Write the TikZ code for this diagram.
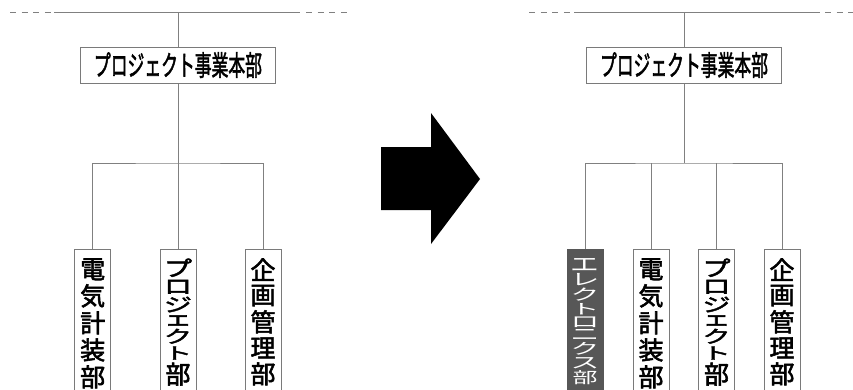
\documentclass[tikz,border=0pt]{standalone}
\usepackage{fontspec}
\newfontfamily\jp{Noto Sans CJK JP}[FakeBold=2.2]
\newfontfamily\jpthin{Noto Sans CJK JP}
\definecolor{linegray}{HTML}{808080}
\definecolor{boxgray}{HTML}{7A7A7A}
\definecolor{darkfill}{HTML}{575757}
% one kanji of a vertical label
\newcommand\vch[1]{\hbox to 36pt{\hss#1\hss}}
% one scaled character: #1 horizontal scale, #2 vertical scale, #3 character
\newcommand\vks[3]{\hbox to 36pt{\hss\scalebox{#1}[#2]{#3}\hss}}
% a vertical label: #1 top skip, #2 gap between glyphs, #3 characters
\newcommand\vlabel[3]{\vbox to 160pt{\baselineskip=0pt\lineskiplimit=0pt\lineskip=#2\vskip#1\relax #3\vfil}}
\tikzset{
  conn/.style={draw=linegray, line width=1pt},
  dashconn/.style={draw=linegray, line width=1pt, dash pattern=on 6pt off 5.6pt},
  hqbox/.style={draw=boxgray, line width=1pt, fill=white, inner sep=0pt,
    minimum width=195pt, minimum height=36pt, font=\jp\fontsize{28}{28}\selectfont},
  deptbox/.style={draw=boxgray, line width=1pt, fill=white, inner sep=0pt, anchor=north,
    font=\jp\fontsize{25}{26}\selectfont},
  newdept/.style={deptbox, fill=darkfill, draw=darkfill, text=white,
    font=\jpthin\fontsize{25}{26}\selectfont},
}
\begin{document}
\begin{tikzpicture}[x=1pt,y=-1pt]
\useasboundingbox (0,0) rectangle (853,389);
\clip (0,0) rectangle (853,389);
% ---------- left (before) ----------
\coordinate (la) at (10,12);
\coordinate (lb) at (51,12);
\coordinate (lc) at (54,12);
\coordinate (ld) at (300,12);
\coordinate (le) at (306,12);
\coordinate (lf) at (347,12);
\coordinate (ltop) at (178,12);
\draw[dashconn] (la) -- (lb);
\draw[conn] (lc) -- (ld);
\draw[dashconn] (le) -- (lf);
\node[hqbox] (hqL) at (178,65) {\scalebox{0.6}[1]{プロジェクト事業本部}};
\draw[conn] (ltop) -- (hqL.north);
\coordinate (ljn) at (178,163);
\node[deptbox] (L1) at (92.7,249) {\vlabel{9pt}{4pt}{\vch{電}\vch{気}\vch{計}\vch{装}\vch{部}}};
\node[deptbox] (L2) at (178,249) {\vlabel{9pt}{3pt}{\vks{1.12}{0.85}{プ}\vks{1.12}{0.8}{ロ}\vks{1.12}{0.75}{ジ}\vks{1.12}{0.8}{ェ}\vks{1.12}{0.7}{ク}\vks{1.12}{0.65}{ト}\vch{部}}};
\node[deptbox] (L3) at (263,249) {\vlabel{9pt}{4pt}{\vch{企}\vch{画}\vch{管}\vch{理}\vch{部}}};
\draw[conn] (hqL.south) -- (ljn);
\draw[conn] (L1.north) |- (ljn) -| (L3.north);
\draw[conn] (L2.north) -- (ljn);
% ---------- arrow ----------
\fill[black] (381,147) -- (431,147) -- (431,113) -- (480,179) -- (431,244) -- (431,210) -- (381,210) -- cycle;
% ---------- right (after) ----------
\coordinate (ra) at (529,12);
\coordinate (rb) at (570,12);
\coordinate (rc) at (574,12);
\coordinate (rd) at (820,12);
\coordinate (re) at (825,12);
\coordinate (rf) at (866,12);
\coordinate (rtop) at (684,12);
\draw[dashconn] (ra) -- (rb);
\draw[conn] (rc) -- (rd);
\draw[dashconn] (re) -- (rf);
\node[hqbox] (hqR) at (684,65) {\scalebox{0.6}[1]{プロジェクト事業本部}};
\draw[conn] (rtop) -- (hqR.north);
\coordinate (rjn) at (684,163);
\node[newdept] (R1) at (585,249) {\vlabel{9pt}{2pt}{\vks{1.15}{0.78}{エ}\vks{1.15}{0.65}{レ}\vks{1.15}{0.62}{ク}\vks{1.15}{0.57}{ト}\vks{1.15}{0.62}{ロ}\vks{1.15}{0.68}{ニ}\vks{1.15}{0.6}{ク}\vks{1.15}{0.62}{ス}\vks{1}{0.62}{部}}};
\node[deptbox] (R2) at (651,249) {\vlabel{9pt}{4pt}{\vch{電}\vch{気}\vch{計}\vch{装}\vch{部}}};
\node[deptbox] (R3) at (716.5,249) {\vlabel{9pt}{3pt}{\vks{1.12}{0.85}{プ}\vks{1.12}{0.8}{ロ}\vks{1.12}{0.75}{ジ}\vks{1.12}{0.8}{ェ}\vks{1.12}{0.7}{ク}\vks{1.12}{0.65}{ト}\vch{部}}};
\node[deptbox] (R4) at (782,249) {\vlabel{9pt}{4pt}{\vch{企}\vch{画}\vch{管}\vch{理}\vch{部}}};
\draw[conn] (hqR.south) -- (rjn);
\draw[conn] (R1.north) |- (rjn) -| (R4.north);
\draw[conn] (R2.north) -- (R2.north |- rjn);
\draw[conn] (R3.north) -- (R3.north |- rjn);
\end{tikzpicture}
\end{document}
